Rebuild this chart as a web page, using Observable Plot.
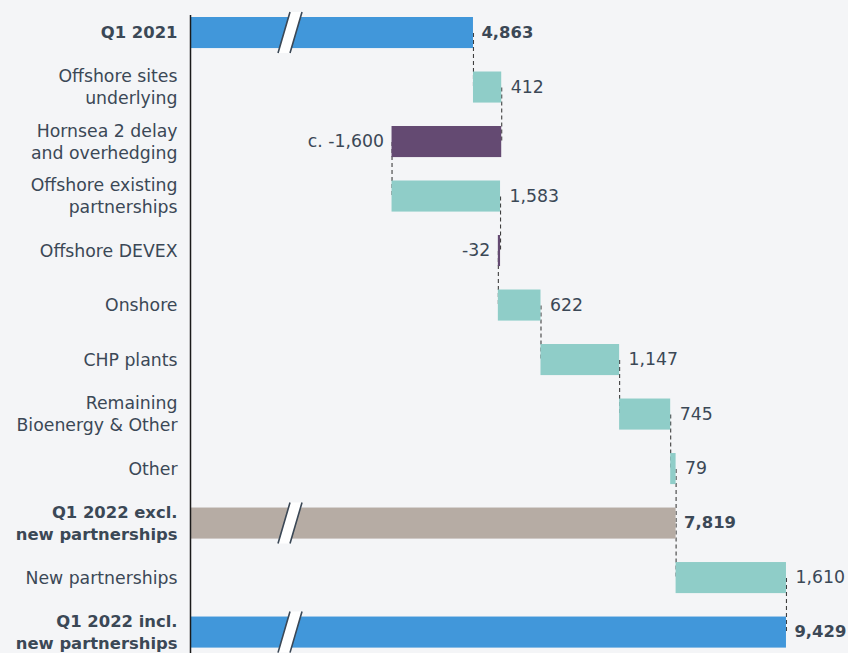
<!DOCTYPE html>
<html><head><meta charset="utf-8">
<script src="https://cdn.jsdelivr.net/npm/d3@7"></script>
<script src="https://cdn.jsdelivr.net/npm/@observablehq/plot@0.6"></script>
<style>
html,body{margin:0;padding:0;background:#f4f5f7;}
#chart svg{display:block;}
</style></head><body><div id="chart"></div>
<script>
const categories = ["Q1 2021","Offshore sites\nunderlying","Hornsea 2 delay\nand overhedging","Offshore existing\npartnerships","Offshore DEVEX","Onshore","CHP plants","Remaining\nBioenergy & Other","Other","Q1 2022 excl.\nnew partnerships","New partnerships","Q1 2022 incl.\nnew partnerships"];
const values = [4863,412,-1600,1583,-32,622,1147,745,79,7819,1610,9429];
const valueLabels = ["4,863","412","c. -1,600","1,583","-32","622","1,147","745","79","7,819","1,610","9,429"];
const kinds = ["total","up","down","up","down","up","up","up","up","subtotal","up","total"];
const axisStart = 735;
const axisEnd = 10334;
const axisBreakValue = 2194;

const colors = {total:"#4197da", subtotal:"#b6aca4", up:"#8fcdc8", down:"#644a72"};
const ink = "#3b4856";

let cum = 0;
const rows = categories.map((cat, i) => {
  const k = kinds[i], v = values[i];
  let start, end;
  if (k === "total" || k === "subtotal") { start = 0; end = v; cum = v; }
  else { start = cum; end = cum + v; cum = end; }
  return {cat, kind:k, start, end, label:valueLabels[i], bold: k !== "up" && k !== "down"};
});
const connectors = rows.slice(0, -1).map((r, i) => ({x: r.end, from: r.cat, to: rows[i+1].cat}));

function breakMarks(...args) {
  const scales = args.find(a => a && typeof a.x === "function" && typeof a.y === "function");
  const g = d3.create("svg:g");
  const x = scales.x, y = scales.y;
  const bw = typeof y.bandwidth === "function" ? y.bandwidth() : 31;
  for (const r of rows.filter(r => r.bold)) {
    const cx = x(axisBreakValue);
    const y0 = y(r.cat) - 5, y1 = y(r.cat) + bw + 5;
    const h = 6, w = 6;
    const tl = [cx + h - w, y0], tr = [cx + h + w, y0], br = [cx - h + w, y1], bl = [cx - h - w, y1];
    g.append("path").attr("d", `M${tl}L${tr}L${br}L${bl}Z`).attr("fill", "#ffffff");
    g.append("path").attr("d", `M${tl}L${bl}M${tr}L${br}`).attr("stroke", "#3b4856").attr("stroke-width", 1.6).attr("fill", "none");
  }
  return g.node();
}

const pos = rows.filter(r => !r.bold && r.end >= r.start);
const neg = rows.filter(r => !r.bold && r.end < r.start);
const tot = rows.filter(r => r.bold);
const font = "'DejaVu Sans', sans-serif";
const fs = 17.3;
const fsb = 16.4;

const chart = Plot.plot({
  width: 848,
  height: 653,
  marginLeft: 190,
  marginRight: 0,
  marginTop: 15,
  marginBottom: 0,
  style: {fontFamily: font, fontSize: fs + "px", background: "#f4f5f7", color: ink},
  x: {domain: [axisStart, axisEnd], clamp: true, axis: null},
  y: {domain: categories, range: [17, 647.6], paddingInner: 0.43, paddingOuter: 0, round: false, axis: null},
  color: {type: "identity"},
  marks: [
    Plot.link(connectors, {x1: "x", x2: "x", y1: "from", y2: "to", stroke: "#3f3f3f", strokeWidth: 1.1, strokeDasharray: "4,3"}),
    Plot.barX(rows, {x1: "start", x2: "end", y: "cat", fill: d => colors[d.kind]}),
    breakMarks,
    Plot.ruleX([axisStart], {stroke: "#1a1a1a", strokeWidth: 1.5}),
    Plot.text(pos, {x: d => Math.max(d.start, d.end), y: "cat", text: "label", textAnchor: "start", dx: 9, dy: -0.5, fill: ink, fontSize: fs}),
    Plot.text(neg, {x: d => Math.min(d.start, d.end), y: "cat", text: "label", textAnchor: "end", dx: -8, dy: -0.5, fill: ink, fontSize: fs}),
    Plot.text(tot, {x: "end", y: "cat", text: "label", textAnchor: "start", dx: 8, dy: -0.5, fill: ink, fontSize: fsb, fontWeight: "bold"}),
    Plot.text(rows.filter(r => !r.bold), {x: axisStart, y: "cat", text: "cat", textAnchor: "end", dx: -13, dy: -1.5, fill: ink, fontSize: fs, lineHeight: 1.27}),
    Plot.text(tot, {x: axisStart, y: "cat", text: "cat", textAnchor: "end", dx: -13, dy: -1.5, fill: ink, fontSize: fsb, fontWeight: "bold", lineHeight: 1.32})
  ]
});
document.getElementById("chart").append(chart);
</script></body></html>
